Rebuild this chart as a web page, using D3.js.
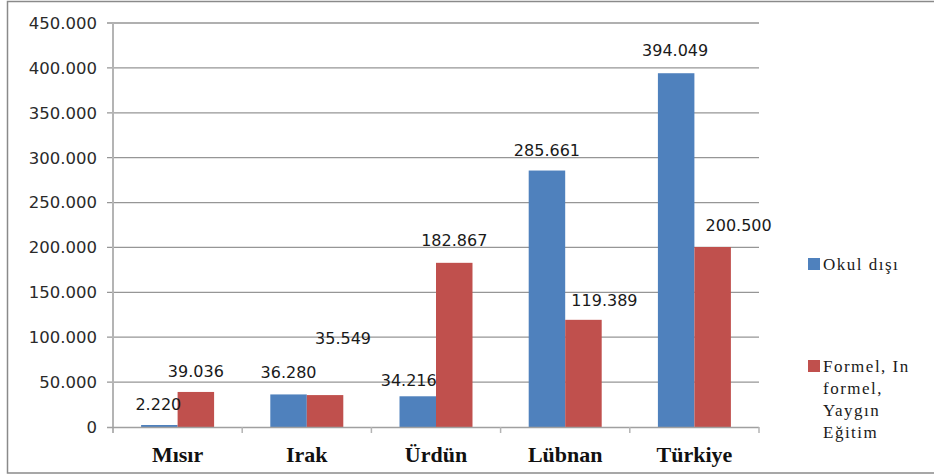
<html lang="tr">
<head>
    <meta charset="UTF-8">
    <title>Okul dışı ve Formel eğitim</title>
    <script src="https://d3js.org/d3.v7.min.js"></script>
    <style>
        body { margin: 0; background: #fff; }
    </style>
</head>
<body>
    <div id="chart"></div>
    <script>
        // data
        var countries = ["Mısır", "Irak", "Ürdün", "Lübnan", "Türkiye"];
        var seriesNames = ["Okul dışı", "Formel, In formel, Yaygın Eğitim"];
        var okulDisi = [2220, 36280, 34216, 285661, 394049];
        var formel = [39036, 35549, 182867, 119389, 200500];
        var yTicks = [0, 50000, 100000, 150000, 200000, 250000, 300000, 350000, 400000, 450000];

        var colors = ["#4F81BD", "#C0504D"];
        var W = 934, H = 475;

        // the labels in the original were dragged around a little
        var labelNudge = [
            [[-1, 0], [0, 0]],
            [[0, -1], [18, -36]],
            [[-9, 5], [0, -2]],
            [[0, 0], [21, 1]],
            [[-1, -2], [26, -1]]
        ];

        var svg = d3.select("#chart").append("svg")
            .attr("width", W).attr("height", H);

        // outer frame
        svg.append("rect")
            .attr("x", 7.5).attr("y", 1.5)
            .attr("width", 940).attr("height", 471.5)
            .attr("fill", "#fff").attr("stroke", "#8a8a8a").attr("stroke-width", 1.5);

        var x = d3.scaleBand().domain(countries).range([113, 759]).padding(0);
        var x1 = d3.scaleBand().domain([0, 1]).range([0, x.bandwidth()])
            .paddingInner(0).paddingOuter(0.77);
        var y = d3.scaleLinear().domain([0, 450000]).range([427, 23]);

        var fmt = function(v) { return d3.format(",")(v).replace(/,/g, "."); };
        var fmtTick = function(v) { return v === 0 ? "0" : d3.format(",.0f")(v).replace(/,/g, "."); };

        // gridlines
        svg.append("g").selectAll("line")
            .data(yTicks.filter(function(d) { return d > 0; }))
            .enter().append("line")
            .attr("x1", 107).attr("x2", 759)
            .attr("y1", function(d) { return y(d); })
            .attr("y2", function(d) { return y(d); })
            .attr("stroke", "#969696").attr("stroke-width", 1.3);

        // y tick labels
        svg.append("g").selectAll("text")
            .data(yTicks).enter().append("text")
            .attr("x", 97).attr("y", function(d) { return y(d); })
            .attr("dy", "0.36em")
            .attr("text-anchor", "end")
            .style("font-family", "DejaVu Sans")
            .style("font-size", "16.5px")
            .attr("fill", "#2a2a2a")
            .text(fmtTick);

        // bars
        var rows = countries.map(function(c, i) { return {c: c, i: i, v: [okulDisi[i], formel[i]]}; });
        var groups = svg.append("g").selectAll("g")
            .data(rows).enter().append("g")
            .attr("transform", function(d) { return "translate(" + x(d.c) + ",0)"; });

        groups.selectAll("rect")
            .data(function(d) { return d.v.map(function(v, s) { return {v: v, s: s}; }); })
            .enter().append("rect")
            .attr("x", function(d) { return x1(d.s); })
            .attr("width", x1.bandwidth())
            .attr("y", function(d) { return y(d.v); })
            .attr("height", function(d) { return y(0) - y(d.v); })
            .attr("fill", function(d) { return colors[d.s]; });

        // data labels
        groups.selectAll("text")
            .data(function(d) { return d.v.map(function(v, s) { return {v: v, s: s, i: d.i}; }); })
            .enter().append("text")
            .attr("x", function(d) { return x1(d.s) + x1.bandwidth() / 2 + labelNudge[d.i][d.s][0]; })
            .attr("y", function(d) { return y(d.v) - 15 + labelNudge[d.i][d.s][1]; })
            .attr("text-anchor", "middle")
            .style("font-family", "DejaVu Sans")
            .style("font-size", "16px")
            .attr("fill", "#1a1a1a")
            .text(function(d) { return fmt(d.v); });

        // axes lines
        svg.append("line")
            .attr("x1", 113).attr("x2", 113).attr("y1", 23).attr("y2", 433)
            .attr("stroke", "#b4b4b4").attr("stroke-width", 2);
        svg.append("line")
            .attr("x1", 107).attr("x2", 759).attr("y1", 427.5).attr("y2", 427.5)
            .attr("stroke", "#a0a0a0").attr("stroke-width", 1.3);
        svg.append("g").selectAll("line")
            .data(countries.map(function(c) { return x(c) + x.bandwidth(); }))
            .enter().append("line")
            .attr("x1", function(d) { return d; }).attr("x2", function(d) { return d; })
            .attr("y1", 427).attr("y2", 433)
            .attr("stroke", "#b4b4b4").attr("stroke-width", 1.5);

        // category labels
        svg.append("g").selectAll("text")
            .data(countries).enter().append("text")
            .attr("x", function(d) { return x(d) + x.bandwidth() / 2; })
            .attr("y", 462)
            .attr("text-anchor", "middle")
            .style("font-family", "Liberation Serif")
            .style("font-weight", "bold")
            .style("font-size", "22px")
            .attr("fill", "#111")
            .text(function(d) { return d; });

        // legend
        var legendLines = [["Okul dışı"], ["Formel, In", "formel,", "Yaygın", "Eğitim"]];
        var legendTop = [258, 360];
        var legend = svg.append("g").selectAll("g")
            .data(seriesNames).enter().append("g")
            .attr("transform", function(d, i) { return "translate(808," + legendTop[i] + ")"; });
        legend.append("rect")
            .attr("width", 12).attr("height", 12)
            .attr("fill", function(d, i) { return colors[i]; });
        legend.append("text")
            .style("font-family", "Liberation Serif")
            .style("font-size", "17px")
            .style("letter-spacing", "1.5px")
            .attr("fill", "#1a1a1a")
            .selectAll("tspan")
            .data(function(d, i) { return legendLines[i]; })
            .enter().append("tspan")
            .attr("x", 15)
            .attr("y", function(d, j) { return 12 + j * 22; })
            .text(function(d) { return d; });
    </script>
</body>
</html>
